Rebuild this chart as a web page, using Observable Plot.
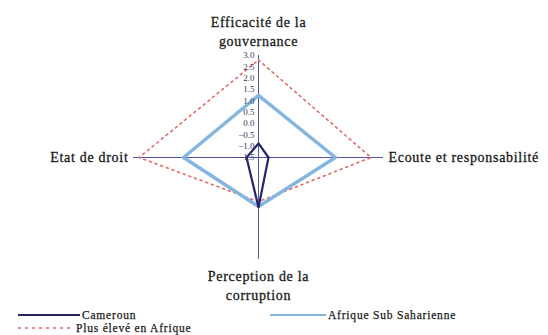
<!DOCTYPE html>
<html>
<head>
<meta charset="utf-8">
<script src="https://cdn.jsdelivr.net/npm/d3@7"></script>
<script src="https://cdn.jsdelivr.net/npm/@observablehq/plot@0.6"></script>
<style>
  html, body { margin: 0; padding: 0; background: #fff; }
  #chart { width: 548px; }
  svg { display: block; }
</style>
</head>
<body>
<div id="chart"></div>
<script>
// ---- data ----
const axesLabels = ["Efficacité de la\ngouvernance", "Ecoute et responsabilité", "Perception de la\ncorruption", "Etat de droit"];
const cameroun = [-0.88, -1.14, 0.70, -1.07];
const afriqueSub = [1.24, 1.27, 0.66, 1.20];
const plusEleve = [2.80, 2.55, 0.45, 2.80];
const tickValues = [3.0, 2.5, 2.0, 1.5, 1.0, 0.5, 0.0, -0.5, -1.0, -1.5];
const seriesNames = ["Cameroun", "Afrique Sub Saharienne", "Plus élevé en Afrique"];

const rMin = -1.5, rMax = 3.0, span = rMax - rMin;
const toPoint = (v, i) => {
  const r = v - rMin, a = i * Math.PI / 2;
  return {x: +(r * Math.sin(a)).toFixed(6), y: +(r * Math.cos(a)).toFixed(6)};
};
const rows = (name, vals) => vals.map((v, i) => ({series: name, axis: i, value: v, ...toPoint(v, i)}));
const camRows = rows(seriesNames[0], cameroun);
const afrRows = rows(seriesNames[1], afriqueSub);
const maxRows = rows(seriesNames[2], plusEleve);
const tickRows = tickValues.map(t => ({t, y: t - rMin}));

const colCam = "#24246a", colAfr = "#85b6e0", colMax = "#e36b6b", colAxis = "#5454a6";
const FONT = "Liberation Serif";

const W = 548, H = 305;
const titleOpts = {fontSize: 14, fill: "#1a1a1a", fontFamily: FONT, stroke: "#1a1a1a", strokeWidth: 0.3};
const plot = Plot.plot({
  width: W, height: H,
  marginLeft: 133, marginRight: 165, marginTop: 55, marginBottom: 46,
  x: {domain: [-span, span], axis: null},
  y: {domain: [-span, span], axis: null},
  style: {fontFamily: FONT, background: "#fff"},
  marks: [
    Plot.ruleX([0], {y1: -span, y2: span, stroke: colAxis, strokeWidth: 1}),
    Plot.ruleY([0], {x1: -span, x2: span, stroke: colAxis, strokeWidth: 1}),
    Plot.line(maxRows, {x: "x", y: "y", curve: "linear-closed", stroke: colMax, strokeWidth: 1.6, strokeDasharray: "2,4"}),
    Plot.line(afrRows, {x: "x", y: "y", curve: "linear-closed", stroke: colAfr, strokeWidth: 3.5}),
    Plot.line(camRows, {x: "x", y: "y", curve: "linear-closed", stroke: colCam, strokeWidth: 2.2}),
    Plot.text(tickRows, {x: 0, y: "y", text: d => d3.format(".1f")(d.t), dx: -4, textAnchor: "end", fontSize: 9, fill: "#3a3a5a", fontFamily: FONT}),
    // axis titles
    Plot.text([axesLabels[0]], {x: 0, y: span, text: d => d, dy: -10, lineAnchor: "bottom", lineHeight: 1.35, ...titleOpts}),
    Plot.text([axesLabels[1]], {x: span, y: 0, text: d => d, dx: 5, textAnchor: "start", ...titleOpts}),
    Plot.text([axesLabels[2]], {x: 0, y: -span, text: d => d, dy: 8, lineAnchor: "top", lineHeight: 1.35, ...titleOpts}),
    Plot.text([axesLabels[3]], {x: -span, y: 0, text: d => d, dx: -5, textAnchor: "end", ...titleOpts})
  ]
});
plot.querySelectorAll("g[font-size='14']").forEach(t => t.style.letterSpacing = "0.7px");
document.getElementById("chart").appendChild(plot);

// ---- legend below ----
const legendItems = [
  {name: seriesNames[0], color: colCam, width: 2, dash: null, x: 18, x2: 80, y: 10},
  {name: seriesNames[1], color: colAfr, width: 2, dash: null, x: 270, x2: 326, y: 10},
  {name: seriesNames[2], color: colMax, width: 1.4, dash: "3,4", x: 18, x2: 74, y: 23}
];
const lg = d3.select("#chart").append("svg").attr("width", W).attr("height", 30)
  .style("font-family", FONT);
const g = lg.selectAll("g").data(legendItems).join("g");
g.append("line").attr("x1", d => d.x).attr("x2", d => d.x2).attr("y1", d => d.y).attr("y2", d => d.y)
  .attr("stroke", d => d.color).attr("stroke-width", d => d.width).attr("stroke-dasharray", d => d.dash);
g.append("text").attr("x", d => d.x2 + 2).attr("y", d => d.y).attr("dy", "0.32em")
  .attr("font-size", 11.5).attr("fill", "#1a1a1a").attr("stroke", "#1a1a1a").attr("stroke-width", 0.25)
  .style("letter-spacing", "0.8px")
  .text(d => d.name);
</script>
</body>
</html>
